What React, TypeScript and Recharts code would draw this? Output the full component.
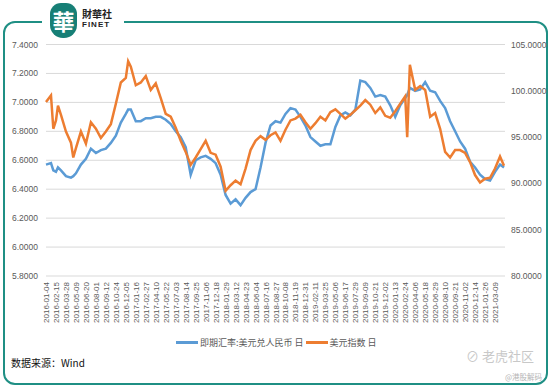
import { LineChart, Line, XAxis, YAxis, CartesianGrid } from 'recharts'

// x axis labels, one every 30 trading days
const tickLabels = [
  '2016-01-04', '2016-02-15', '2016-03-28', '2016-05-09', '2016-06-20', '2016-08-01',
  '2016-09-12', '2016-10-24', '2016-12-05', '2017-01-16', '2017-02-27', '2017-04-10',
  '2017-05-22', '2017-07-03', '2017-08-14', '2017-09-25', '2017-11-06', '2017-12-18',
  '2018-01-29', '2018-03-12', '2018-04-23', '2018-06-04', '2018-07-16', '2018-08-27',
  '2018-10-08', '2018-11-19', '2018-12-31', '2019-02-11', '2019-03-25', '2019-05-06',
  '2019-06-17', '2019-07-29', '2019-09-09', '2019-10-21', '2019-12-02', '2020-01-13',
  '2020-02-24', '2020-04-06', '2020-05-18', '2020-06-29', '2020-08-10', '2020-09-21',
  '2020-11-02', '2020-12-14', '2021-01-26', '2021-03-09',
]

// trading-day offset from 2016-01-04 of each sampled point
const dayIdx = [
  0, 15, 22, 30, 36, 45, 60, 75, 82, 90, 105, 120, 135, 150, 165, 180, 195, 210, 225, 240, 247, 255,
  270, 285, 300, 315, 330, 345, 360, 375, 390, 405, 420, 435, 450, 465, 480, 495, 510,
  525, 540, 555, 570, 585, 600, 615, 630, 645, 660, 675, 690, 705, 720, 735, 750, 765,
  780, 795, 810, 825, 840, 855, 870, 885, 900, 915, 930, 945, 960, 975, 990, 1005, 1020,
  1035, 1050, 1065, 1080, 1086, 1094, 1110, 1125, 1140, 1155, 1170, 1185, 1200, 1215,
  1230, 1245, 1260, 1275, 1290, 1305, 1320, 1335, 1350, 1365, 1377,
]

// 即期汇率:美元兑人民币
const cny = [
  6.57, 6.58, 6.53, 6.52, 6.55, 6.53, 6.49, 6.48, 6.49, 6.51, 6.57, 6.61, 6.68, 6.65, 6.67, 6.68, 6.72, 6.77, 6.86, 6.92, 6.95, 6.95,
  6.87, 6.87, 6.89, 6.89, 6.9, 6.9, 6.88, 6.85, 6.8, 6.76, 6.69, 6.5, 6.6, 6.62, 6.63, 6.61, 6.58,
  6.5, 6.36, 6.3, 6.33, 6.29, 6.34, 6.38, 6.4, 6.55, 6.72, 6.84, 6.87, 6.86, 6.92, 6.96, 6.95, 6.9,
  6.84, 6.76, 6.73, 6.7, 6.71, 6.71, 6.83, 6.91, 6.93, 6.91, 6.95, 7.15, 7.14, 7.1, 7.04, 7.05, 7.04,
  6.98, 6.9, 6.98, 7.03, 7.05, 7.1, 7.08, 7.09, 7.14, 7.08, 7.07, 7.01, 6.96, 6.87,
  6.8, 6.73, 6.68, 6.59, 6.55, 6.5, 6.47, 6.46, 6.52, 6.57, 6.55,
]

// 美元指数
const dxy = [
  98.8, 99.5, 95.9, 96.8, 98.4, 97.4, 95.6, 94.4, 92.8, 93.8, 95.6, 94.3, 96.6, 95.9, 94.9, 95.6, 96.4, 98.6, 100.9, 101.4, 103.2, 102.6,
  100.6, 100.9, 101.6, 100.1, 100.8, 99.2, 97.5, 97.2, 96.0, 94.6, 93.4, 92.0, 92.8, 93.7, 94.6, 93.3, 93.1,
  91.8, 89.2, 89.8, 90.3, 89.9, 91.6, 93.6, 94.6, 95.1, 94.7, 95.2, 95.5, 94.6, 95.8, 96.8, 97.0, 97.4,
  96.6, 95.9, 96.5, 97.2, 96.8, 97.7, 98.0, 97.5, 97.0, 97.4, 97.9, 98.4, 99.0, 98.5, 97.6, 98.2, 97.3,
  97.1, 97.8, 98.6, 99.4, 95.0, 102.8, 100.1, 100.5, 100.1, 97.2, 97.6, 95.9, 93.4, 92.8,
  93.6, 93.6, 93.3, 92.3, 90.9, 90.1, 90.5, 90.6, 91.6, 92.9, 91.9,
]

const leftTicks = [5.8, 6.0, 6.2, 6.4, 6.6, 6.8, 7.0, 7.2, 7.4]
const rightTicks = [80, 85, 90, 95, 100, 105]

const data = dayIdx.map((d, k) => ({ d, cny: cny[k], dxy: dxy[k] }))
const xTicks = tickLabels.map((_, k) => k * 30)

const BLUE = '#5b9bd5'
const ORANGE = '#ed7d31'
const TEAL = '#1f8f84'
const axisFont = { fontSize: 8.5, fill: '#595959', fontFamily: 'Liberation Sans' }

function DateTick(props: any) {
  const { x, y, payload } = props
  return (
    <text
      x={x}
      y={y}
      dy={3}
      transform={`rotate(-90, ${x}, ${y})`}
      textAnchor="end"
      fontSize={8}
      fill="#595959"
      fontFamily="Liberation Sans"
    >
      {tickLabels[Math.round(payload.value / 30)]}
    </text>
  )
}

export default function App() {
  return (
    <div style={{ position: 'absolute', left: 0, top: 0, width: 553, height: 388, background: '#fff', overflow: 'hidden' }}>
      {/* frame */}
      <div
        style={{
          position: 'absolute', left: 3, top: 21, width: 541, height: 360,
          border: `2.5px solid ${TEAL}`, borderRadius: 12,
        }}
      />
      <div style={{ position: 'absolute', left: 42, top: 0, width: 82, height: 30, background: '#fff' }} />
      {/* logo */}
      <div
        style={{
          position: 'absolute', left: 50, top: 3, width: 27, height: 35, background: '#177f76',
          borderRadius: '11px 11px 13px 13px', color: '#fff', fontSize: 22, lineHeight: '35px',
          textAlign: 'center', fontFamily: 'Noto Sans CJK TC', fontWeight: 700,
        }}
      >
        華
      </div>
      <div style={{ position: 'absolute', left: 82, top: 8, fontSize: 10, fontWeight: 700, color: '#222', fontFamily: 'Noto Sans CJK TC', lineHeight: '11px' }}>
        財華社
      </div>
      <div style={{ position: 'absolute', left: 82, top: 20, fontSize: 8, fontWeight: 700, color: '#222', fontFamily: 'Liberation Sans', letterSpacing: 1, lineHeight: '9px' }}>
        FINET
      </div>

      <div style={{ position: 'absolute', left: 0, top: 0 }}>
        <LineChart width={553} height={388} data={data} margin={{ top: 44.5, right: 0, bottom: 62, left: 0 }}>
          <CartesianGrid yAxisId="left" vertical={false} stroke="#d9d9d9" strokeWidth={1} />
          <XAxis
            dataKey="d"
            type="number"
            domain={[0, 1380]}
            ticks={xTicks}
            interval={0}
            tick={<DateTick />}
            axisLine={false}
            tickLine={false}
            tickMargin={0}
            height={50}
          />
          <YAxis
            yAxisId="left"
            domain={[5.8, 7.4]}
            ticks={leftTicks}
            width={46}
            axisLine={false}
            tickLine={false}
            tick={axisFont}
            tickFormatter={(v: number) => v.toFixed(4)}
          />
          <YAxis
            yAxisId="right"
            orientation="right"
            domain={[80, 105]}
            ticks={rightTicks}
            width={48}
            axisLine={false}
            tickLine={false}
            tickMargin={0}
            tick={axisFont}
            tickFormatter={(v: number) => v.toFixed(4)}
          />
          <Line yAxisId="left" type="linear" dataKey="cny" stroke={BLUE} strokeWidth={2.5} dot={false} isAnimationActive={false} />
          <Line yAxisId="right" type="linear" dataKey="dxy" stroke={ORANGE} strokeWidth={2.5} dot={false} isAnimationActive={false} />
        </LineChart>
      </div>

      {/* legend */}
      <div
        style={{
          position: 'absolute', left: 176, top: 336, display: 'flex', alignItems: 'center',
          fontSize: 9, color: '#595959', fontFamily: 'Noto Sans CJK SC', whiteSpace: 'nowrap',
        }}
      >
        <span style={{ display: 'inline-block', width: 22, height: 2.5, background: BLUE, marginRight: 2 }} />
        <span>即期汇率:美元兑人民币 日</span>
        <span style={{ display: 'inline-block', width: 22, height: 2.5, background: ORANGE, margin: '0 2px 0 2px' }} />
        <span>美元指数 日</span>
      </div>

      <div style={{ position: 'absolute', left: 11, top: 355, fontSize: 10, color: '#111', fontFamily: 'Noto Sans CJK SC' }}>
        数据来源：Wind
      </div>

      {/* watermark */}
      <div style={{ position: 'absolute', left: 466, top: 346, fontSize: 13, color: '#c8c8c8', fontFamily: 'Noto Sans CJK SC', whiteSpace: 'nowrap' }}>
        ⊘ 老虎社区
      </div>
      <div style={{ position: 'absolute', left: 505, top: 371, fontSize: 7.5, color: '#b5b5b5', fontFamily: 'Noto Sans CJK SC', whiteSpace: 'nowrap' }}>
        @港股解码
      </div>
    </div>
  )
}
